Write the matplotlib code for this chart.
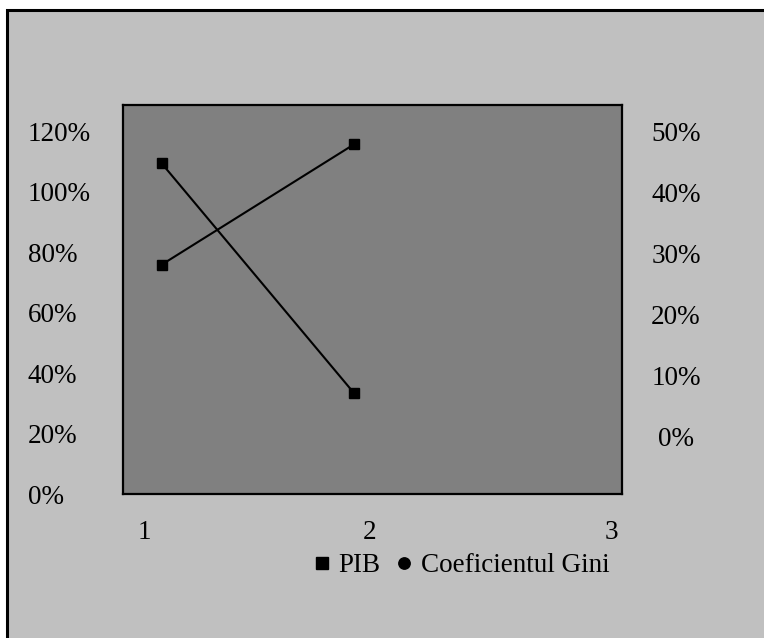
import matplotlib
matplotlib.use("Agg")
import matplotlib.pyplot as plt
from matplotlib.lines import Line2D
from matplotlib.patches import Rectangle

# Data
categories = [1, 2]
pib = [109.4, 33.4]          # % (left axis)
gini = [28.2, 47.9]          # % (right axis)
left_ticks = [0, 20, 40, 60, 80, 100, 120]
right_ticks = [0, 10, 20, 30, 40, 50]
x_labels = ["1", "2", "3"]
legend_labels = ["PIB", "Coeficientul Gini"]

W, H = 764, 638
plt.rcParams["font.family"] = ["Liberation Serif", "DejaVu Serif"]
FS = 19.5

fig = plt.figure(figsize=(W / 100, H / 100), dpi=100, facecolor="white")

# outer gray panel with black border (only top/left visible)
fig.patches.append(Rectangle((7 / W, -0.1), 1.2, 1 - 10 / H + 0.1,
                             transform=fig.transFigure, facecolor="#C0C0C0",
                             edgecolor="black", linewidth=2.2, zorder=-10))

ax = fig.add_axes([123 / W, 1 - 494 / H, 499 / W, 389 / H])
ax.set_facecolor("#808080")
for s in ax.spines.values():
    s.set_linewidth(1.6)
    s.set_color("black")

ax.set_xlim(0.799, 3.394)
ylo, yhi = 1.3, 128.7
ax.set_ylim(ylo, yhi)

ax.plot(categories, pib, color="black", lw=1.5, marker="s", ms=7.5, zorder=3)

ax2 = ax.twinx()
ax2.set_ylim((ylo - 20) / 2, (yhi - 20) / 2)
ax2.plot(categories, gini, color="black", lw=1.5, marker="s", ms=7.5, zorder=3)

ax.set_xticks([])
ax.set_yticks(left_ticks)
ax.set_yticklabels([f"{t}%" for t in left_ticks], fontsize=FS, ha="left")
ax.tick_params(axis="y", length=0, pad=68.4)

ax2.set_yticks(right_ticks)
ax2.set_yticklabels([f"{t}%" for t in right_ticks], fontsize=FS, ha="center")
ax2.tick_params(axis="y", length=0, pad=38.9)
for s in ax2.spines.values():
    s.set_visible(False)

# category labels under the plot
for frac, lab in zip([0.042, 0.495, 0.978], x_labels):
    ax.text(frac, -0.098, lab, transform=ax.transAxes, ha="center", va="center",
            fontsize=FS)

handles = [Line2D([], [], ls="none", marker="s", color="black", ms=8.6),
           Line2D([], [], ls="none", marker="o", color="black", ms=8.2)]
fig.legend(handles, legend_labels, loc="center", ncol=2, frameon=False,
           bbox_to_anchor=(462 / W, 1 - 566 / H), fontsize=FS,
           handlelength=0.5, handletextpad=0.35, columnspacing=0.65,
           borderpad=0)

fig.savefig("out.png", dpi=100, facecolor=fig.get_facecolor())
